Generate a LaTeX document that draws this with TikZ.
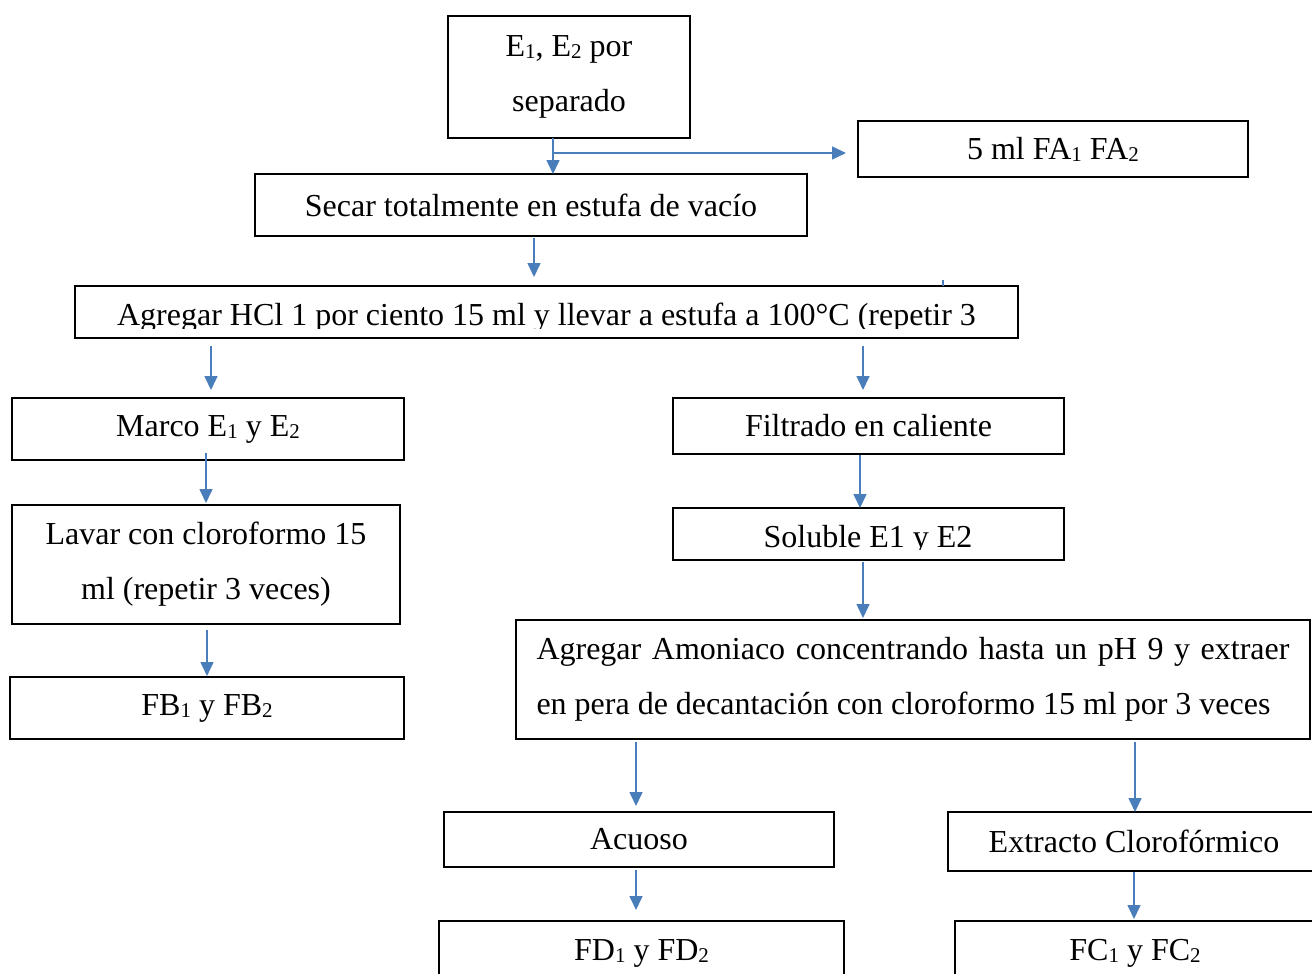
\documentclass[tikz,border=0pt]{standalone}
\usepackage{fontspec}
\setmainfont{Liberation Serif}
\usetikzlibrary{arrows.meta}
\definecolor{arrblue}{RGB}{74,126,187}
\newcommand\mysub[1]{\raisebox{-2pt}{\fontsize{21}{21}\selectfont #1}}
\begin{document}
\begin{tikzpicture}[x=1pt,y=-1pt,
  txt/.style={font=\fontsize{32}{55}\selectfont},
  box/.style={draw=black,line width=1.6pt,outer sep=0pt,inner sep=0pt,txt,align=center},
  arr/.style={draw=arrblue,line width=1.6pt,-{Triangle[length=14pt,width=13pt]}}]
\useasboundingbox (0,0) rectangle (1312,974);

\node[box,minimum width=242pt,minimum height=122pt] (top) at (569,77) {E\mysub{1}, E\mysub{2} por\\separado};
\node[box,minimum width=390pt,minimum height=56pt] (fa) at (1053,149) {5 ml FA\mysub{1} FA\mysub{2}};
\node[box,minimum width=552pt,minimum height=62pt] (secar) at (531,205) {Secar totalmente en estufa de vacío};
\node[box,minimum width=943pt,minimum height=52pt] (hcl) at (546.5,312) {};
\begin{scope}
  \clip (hcl.north west) rectangle ([yshift=10pt]hcl.south east);
  \node[txt,anchor=base,inner sep=0pt] (hcltext) at (546.5,325) {Agregar HCl 1 por ciento 15 ml y llevar a estufa a 100°C (repetir 3};
\end{scope}
\node[box,minimum width=392pt,minimum height=62pt] (marco) at (208,429) {Marco E\mysub{1} y E\mysub{2}};
\node[box,minimum width=388pt,minimum height=119pt] (lavar) at (206,564.5) {Lavar con cloroformo 15\\ml (repetir 3 veces)};
\node[box,minimum width=394pt,minimum height=62pt] (fb) at (207,708) {FB\mysub{1} y FB\mysub{2}};
\node[box,minimum width=391pt,minimum height=56pt] (filtrado) at (868.5,426) {Filtrado en caliente};
\node[box,minimum width=391pt,minimum height=52pt] (soluble) at (868.5,534) {};
\begin{scope}
  \clip (soluble.north west) rectangle ([yshift=11pt]soluble.south east);
  \node[txt,anchor=base,inner sep=0pt] (soltext) at (868,547) {Soluble E1 y E2};
\end{scope}
\node[box,minimum width=794pt,minimum height=119pt,text width=753pt,align=justify] (amon) at (913,679.5) {Agregar Amoniaco concentrando hasta un pH 9 y extraer\linebreak en pera de decantación con cloroformo 15 ml por 3 veces};
\node[box,minimum width=390pt,minimum height=55pt] (acuoso) at (639,839.5) {Acuoso};
\node[box,minimum width=372pt,minimum height=59pt] (extracto) at (1134,841.5) {Extracto Clorofórmico};
\node[box,minimum width=405pt,minimum height=64pt] (fd) at (641.5,953) {FD\mysub{1} y FD\mysub{2}};
\node[box,minimum width=360pt,minimum height=64pt] (fc) at (1135,953) {FC\mysub{1} y FC\mysub{2}};

\draw[arr] (top.south -| 553,0) -- (secar.north -| 553,0);
\coordinate (j) at (553,153);
\draw[arr,shorten >=12pt] (j) -- (j -| fa.west);
\draw[arr,shorten <=2pt,shorten >=9pt] (secar.south -| 534,0) -- (hcl.north -| 534,0);
\draw[arrblue,line width=1.6pt] (943,280) -- (hcl.north -| 943,0);
\draw[arr,shorten <=8pt,shorten >=8pt] (hcl.south -| 211,0) -- (marco.north -| 211,0);
\draw[arr,shorten <=8pt,shorten >=8pt] (hcl.south -| 863,0) -- (filtrado.north -| 863,0);
\draw[arr,shorten <=-7pt,shorten >=2pt] (marco.south -| 206,0) -- (lavar.north -| 206,0);
\draw[arr,shorten <=6pt,shorten >=1pt] (lavar.south -| 207,0) -- (fb.north -| 207,0);
\draw[arr,shorten <=1pt] (filtrado.south -| 860,0) -- (soluble.north -| 860,0);
\draw[arr,shorten <=2pt,shorten >=2pt] (soluble.south -| 863,0) -- (amon.north -| 863,0);
\draw[arr,shorten <=3pt,shorten >=6pt] (amon.south -| 636,0) -- (acuoso.north -| 636,0);
\draw[arr,shorten <=3pt] (amon.south -| 1135,0) -- (extracto.north -| 1135,0);
\draw[arr,shorten <=3pt,shorten >=11pt] (acuoso.south -| 636,0) -- (fd.north -| 636,0);
\draw[arr,shorten <=1pt,shorten >=2pt] (extracto.south -| 1134,0) -- (fc.north -| 1134,0);
\end{tikzpicture}
\end{document}
